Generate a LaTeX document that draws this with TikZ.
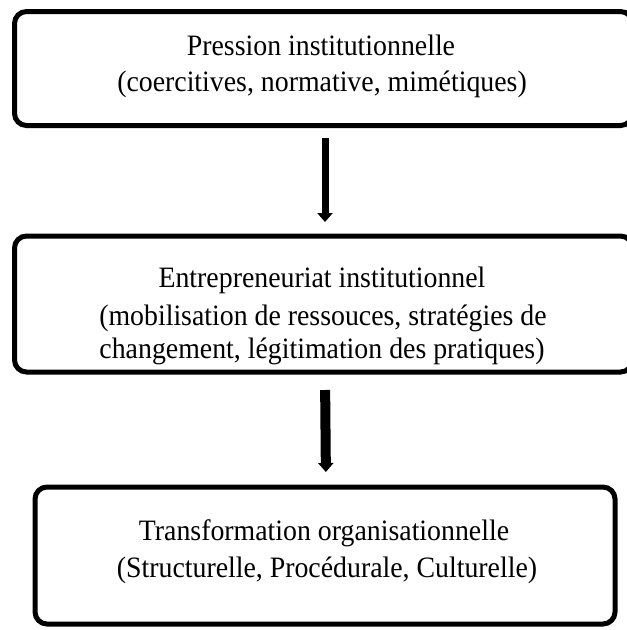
\documentclass[tikz,border=0pt]{standalone}
\usepackage{fontspec}
\setmainfont[FakeStretch=0.94]{Liberation Serif}
\usetikzlibrary{arrows.meta}
\begin{document}
\begin{tikzpicture}[x=1pt,y=-1pt,
  box/.style={draw, line width=5pt, rounded corners=12pt, inner sep=0pt},
  lbl/.style={anchor=base, inner sep=0pt, font=\fontsize{29.6}{34}\selectfont},
  flow/.style={line width=#1, -{Triangle[width=15pt,length=9pt]}}]
\useasboundingbox (0,0) rectangle (627,630);
\clip (0,0) rectangle (627,630);
\node[box, minimum width=618pt, minimum height=114pt] (b1) at (323.5,68.5) {};
\node[box, minimum width=618pt, minimum height=136pt] (b2) at (323.5,304) {};
\node[box, minimum width=580pt, minimum height=137pt] (b3) at (325,555.5) {};
\node[lbl] (t1a) at (321,55) {Pression institutionnelle};
\node[lbl] (t1b) at (322,91) {(coercitives, normative, mimétiques)};
\node[lbl] (t2a) at (322,287) {Entrepreneuriat institutionnel};
\node[lbl] (t2b) at (323,325) {(mobilisation de ressouces, stratégies de};
\node[lbl] (t2c) at (322,358) {changement, légitimation des pratiques)};
\node[lbl] (t3a) at (324,540) {Transformation organisationnelle};
\node[lbl] (t3b) at (327,577) {(Structurelle, Procédurale, Culturelle)};
\draw[flow=7pt, shorten <=10pt, shorten >=11.5pt] ([xshift=1.5pt]b1.south) -- ([xshift=1.5pt]b2.north);
\draw[flow=10pt, shorten <=15.5pt, shorten >=12.5pt] ([xshift=1.5pt]b2.south) -- ([xshift=1pt]b3.north);
\end{tikzpicture}
\end{document}
